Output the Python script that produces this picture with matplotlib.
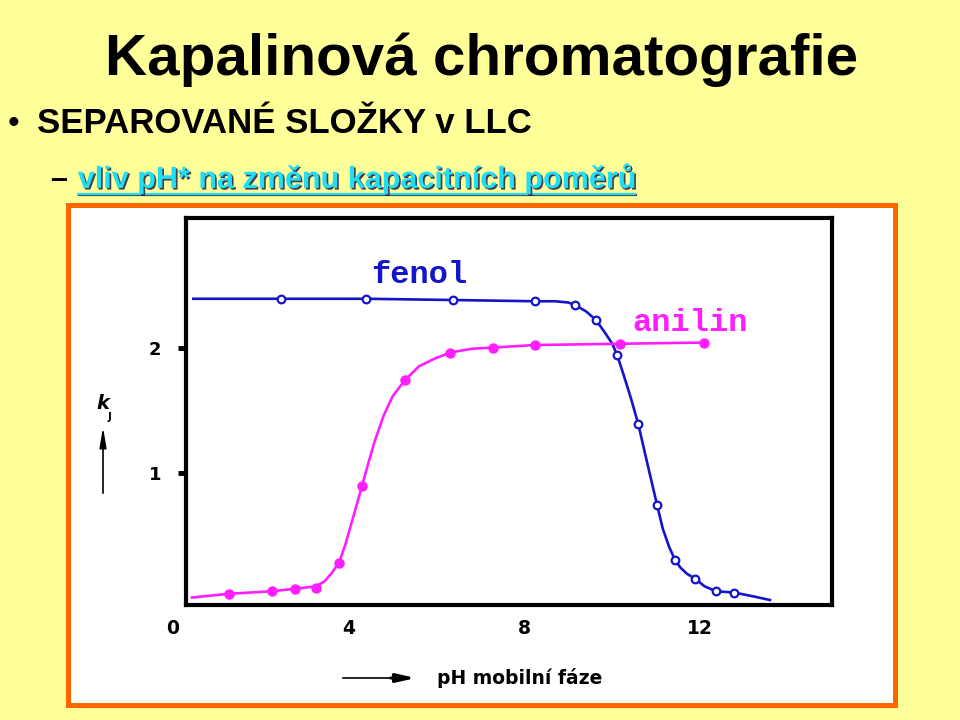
import matplotlib
matplotlib.use("Agg")
import matplotlib.pyplot as plt
import matplotlib.patheffects as pe
from matplotlib.patches import Rectangle

# ── Data ──────────────────────────────────────────────────────────────────

x_ticks = [0, 4, 8, 12]
x_tick_labels = ["0", "4", "8", "12"]
y_ticks = [1, 2]
y_tick_labels = ["1", "2"]

# measured points (markers)
fenol_ph = [2.46, 4.39, 6.38, 8.24, 9.15, 9.63, 10.11, 10.59, 11.02, 11.43, 11.89, 12.36, 12.77]
fenol_k = [2.39, 2.39, 2.38, 2.37, 2.34, 2.22, 1.94, 1.39, 0.74, 0.30, 0.15, 0.05, 0.04]

anilin_ph = [1.28, 2.25, 2.78, 3.26, 3.78, 4.30, 5.28, 6.31, 7.29, 8.24, 10.18, 12.09]
anilin_k = [0.03, 0.05, 0.07, 0.08, 0.28, 0.89, 1.74, 1.96, 2.00, 2.02, 2.03, 2.04]

# hand-drawn curves
fenol_curve_ph = [0.46, 2.46, 4.39, 6.38, 8.24, 8.7, 9.0, 9.15, 9.4, 9.63, 9.85, 10.0,
                  10.11, 10.25, 10.42, 10.59, 10.8, 11.02, 11.15, 11.3, 11.43, 11.55,
                  11.7, 11.89, 12.1, 12.36, 12.77, 13.2, 13.59]
fenol_curve_k = [2.39, 2.39, 2.39, 2.38, 2.37, 2.37, 2.36, 2.34, 2.29, 2.22, 2.11, 2.03,
                 1.94, 1.79, 1.60, 1.39, 1.07, 0.74, 0.55, 0.40, 0.30, 0.24,
                 0.19, 0.15, 0.09, 0.05, 0.04, 0.01, -0.02]

anilin_curve_ph = [0.43, 1.28, 2.25, 2.78, 3.26, 3.45, 3.6, 3.78, 3.92, 4.05, 4.18, 4.30,
                   4.45, 4.6, 4.8, 5.0, 5.28, 5.6, 5.95, 6.31, 6.8, 7.29, 8.24, 10.18, 12.09]
anilin_curve_k = [0.00, 0.03, 0.05, 0.07, 0.09, 0.13, 0.19, 0.28, 0.42, 0.58, 0.74, 0.89,
                  1.08, 1.26, 1.46, 1.61, 1.74, 1.85, 1.91, 1.96, 1.99, 2.00, 2.02, 2.03, 2.04]

# ── Style ──────────────────────────────────────────────────────────────────

SLIDE_BG = "#FFFF99"
FRAME = "#FF6600"
CYAN = "#22DDF5"
BLUE = "#1414C8"
MAGENTA = "#FF1EFF"

fig = plt.figure(figsize=(9.6, 7.2), dpi=100, facecolor=SLIDE_BG)

# orange framed white panel (behind the axes)
fig.patches.append(Rectangle((0.0708, 0.0208), 0.8615, 0.694, transform=fig.transFigure,
                             facecolor="white", edgecolor=FRAME, linewidth=3.6, zorder=-10))

# slide texts
fig.text(0.502, 0.896, "Kapalinová chromatografie", ha="center", va="baseline",
         fontsize=42, fontweight="bold", family="Liberation Sans")
fig.text(0.008, 0.815, "•", ha="left", va="baseline", fontsize=24, family="Liberation Sans")
fig.text(0.0385, 0.815, "SEPAROVANÉ SLOŽKY v LLC", ha="left", va="baseline",
         fontsize=25, fontweight="bold", family="Liberation Sans")
fig.text(0.052, 0.739, "–", ha="left", va="baseline", fontsize=22, fontweight="bold",
         family="Liberation Sans")
shadow = [pe.withSimplePatchShadow(offset=(1.2, -1.2), shadow_rgbFace="#202040", alpha=0.85)]
fig.text(0.081, 0.739, "vliv pH* na změnu kapacitních poměrů", ha="left", va="baseline",
         fontsize=22, fontweight="bold", family="Liberation Sans", color=CYAN,
         path_effects=shadow)
fig.add_artist(plt.Line2D([0.081, 0.661], [0.7306, 0.7306], transform=fig.transFigure,
                          color=CYAN, linewidth=1.6,
                          path_effects=[pe.SimpleLineShadow(offset=(1.0, -1.0),
                                                            shadow_color="#202040", alpha=0.85),
                                        pe.Normal()]))

# ── Chart ──────────────────────────────────────────────────────────────────

ax = fig.add_axes([0.194, 0.1597, 0.673, 0.5375])
ax.set_facecolor("white")
ax.set_xlim(0.30, 15.01)
ax.set_ylim(-0.06, 3.036)
for s in ax.spines.values():
    s.set_linewidth(3.0)
    s.set_color("black")

ax.plot(fenol_curve_ph, fenol_curve_k, color=BLUE, linewidth=1.9, zorder=3)
ax.plot(fenol_ph, fenol_k, linestyle="none", marker="o", markersize=5.5,
        markerfacecolor="white", markeredgecolor=BLUE, markeredgewidth=1.6, zorder=4)
ax.plot(anilin_curve_ph, anilin_curve_k, color=MAGENTA, linewidth=1.9, zorder=3)
ax.plot(anilin_ph, anilin_k, linestyle="none", marker="o", markersize=6.5,
        markerfacecolor=MAGENTA, markeredgecolor=MAGENTA, zorder=4)

ax.text(5.6, 2.58, "fenol", color=BLUE, fontsize=23, fontweight="bold",
        family="Liberation Mono", ha="center", va="center")
ax.text(11.77, 2.2, "anilin", color=MAGENTA, fontsize=23, fontweight="bold",
        family="Liberation Mono", ha="center", va="center")

# y ticks: short thick marks outside
ax.set_yticks(y_ticks)
ax.set_yticklabels(y_tick_labels)
ax.tick_params(axis="y", direction="out", length=6, width=3.5, pad=12,
               labelsize=13)
for lbl in ax.get_yticklabels():
    lbl.set_fontweight("bold")
    lbl.set_family("DejaVu Sans")

# x labels sit below the frame, no tick marks (0 lies outside the frame)
ax.set_xticks([])
for v, lab in zip(x_ticks, x_tick_labels):
    ax.text(v, -0.245, lab, transform=ax.transData, ha="center", va="center",
            fontsize=13.5, fontweight="bold", family="DejaVu Sans", clip_on=False)

# axis captions drawn as on the slide
fig.text(0.4555, 0.0583, "pH mobilní fáze", ha="left", va="center", fontsize=13.5,
         fontweight="bold", family="DejaVu Sans")
fig.add_artist(plt.Line2D([0.357, 0.412], [0.0583, 0.0583], transform=fig.transFigure,
                          color="black", linewidth=1.2))
ax.annotate("", xy=(0.433, 0.0583), xytext=(0.407, 0.0583), xycoords="figure fraction",
            arrowprops=dict(arrowstyle="-|>,head_length=1.1,head_width=0.25",
                            color="black", linewidth=2.2, shrinkA=0, shrinkB=0),
            annotation_clip=False)

fig.text(0.1, 0.432, "k", fontsize=14, fontweight="bold", style="italic",
         family="DejaVu Sans", ha="left", va="baseline")
fig.text(0.1125, 0.417, "J", fontsize=7.5, fontweight="bold", family="DejaVu Sans",
         ha="left", va="baseline")
ax.annotate("", xy=(0.1073, 0.407), xytext=(0.1073, 0.315), xycoords="figure fraction",
            arrowprops=dict(arrowstyle="-|>,head_length=1.2,head_width=0.2",
                            color="black", linewidth=1.2, shrinkA=0, shrinkB=0),
            annotation_clip=False)

fig.savefig("out.png", dpi=100, facecolor=SLIDE_BG)
